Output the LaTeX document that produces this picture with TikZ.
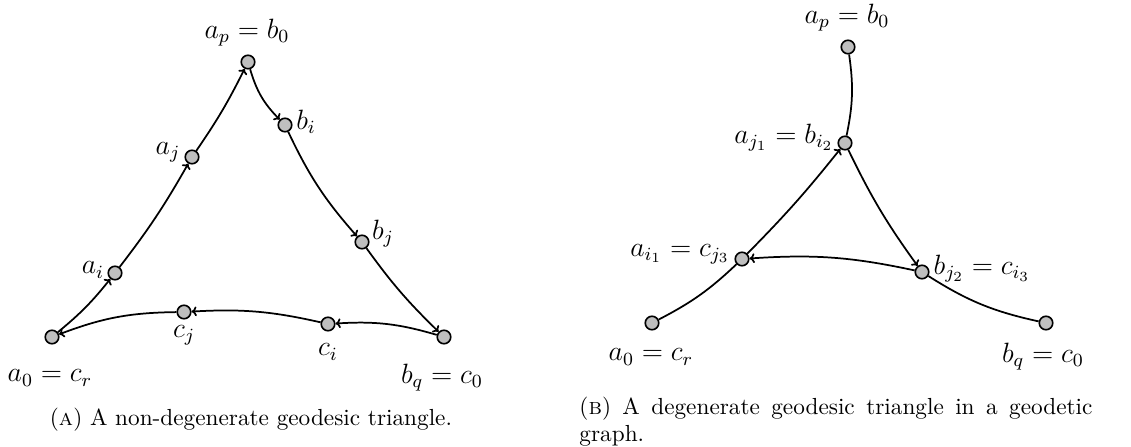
\documentclass[tikz,border=0pt]{standalone}
\usepackage{amsmath}
\usepackage{tikz}
\usetikzlibrary{arrows.meta}

\begin{document}
\begin{tikzpicture}[
   x=0.43pt,y=-0.43pt,
   vtx/.style={circle,draw,line width=0.7pt,fill=gray!50,minimum size=5.8pt,inner sep=0pt},
   lbl/.style={font=\fontsize{11.7}{14}\selectfont,inner sep=0pt},
   edge/.style={line width=0.75pt},
   captext/.style={font=\normalsize,inner sep=0pt},
   >={To[length=2.2pt,width=4.2pt]}]
  \useasboundingbox (0,0) rectangle (1131,446);
  % (a) non-degenerate triangle
  \node[vtx] (ap) at (248,62) {};
  \node[vtx] (bi) at (285,125) {};
  \node[vtx] (aj) at (192,157) {};
  \node[vtx] (bj) at (362,242) {};
  \node[vtx] (ai) at (115,273) {};
  \node[vtx] (a0) at (52,337) {};
  \node[vtx] (cj) at (184,312) {};
  \node[vtx] (ci) at (328,324) {};
  \node[vtx] (bq) at (444,337) {};
  \node[lbl] (Lap) at (247,33) {$a_p = b_0$};
  \node[lbl] (Lbi) at (306,122) {$b_i$};
  \node[lbl] (Laj) at (168,152) {$a_j$};
  \node[lbl] (Lbj) at (383,234) {$b_j$};
  \node[lbl] (Lai) at (93,270) {$a_i$};
  \node[lbl] (Lcj) at (184,335) {$c_j$};
  \node[lbl] (Lci) at (328,352) {$c_i$};
  \node[lbl] (La0) at (50,378) {$a_0 = c_r$};
  \node[lbl] (Lbq) at (442,378) {$b_q = c_0$};
  \draw[edge,->] (a0) to[bend right=6] (ai);
  \draw[edge,->] (ai) to[bend right=4] (aj);
  \draw[edge,->] (aj) to[bend right=4] (ap);
  \draw[edge,->] (ap) to[bend right=14] (bi);
  \draw[edge,->] (bi) to[bend right=8] (bj);
  \draw[edge,->] (bj) to[bend right=5] (bq);
  \draw[edge,->] (bq) to[bend right=10] (ci);
  \draw[edge,->] (ci) to[bend right=8] (cj);
  \draw[edge,->] (cj) to[bend right=10] (a0);
  % (b) degenerate triangle
  \node[vtx] (ap2) at (848,47) {};
  \node[vtx] (aj1) at (845,143) {};
  \node[vtx] (ai1) at (742,259) {};
  \node[vtx] (bj2) at (922,272) {};
  \node[vtx] (a02) at (652,323) {};
  \node[vtx] (bq2) at (1046,323) {};
  \node[lbl] (Lap2) at (847,18) {$a_p = b_0$};
  \node[lbl] (Laj1) at (784,138) {$a_{j_1} = b_{i_2}$};
  \node[lbl] (Lai1) at (680,254) {$a_{i_1} = c_{j_3}$};
  \node[lbl] (Lbj2) at (982,269) {$b_{j_2} = c_{i_3}$};
  \node[lbl] (La02) at (651,357) {$a_0 = c_r$};
  \node[lbl] (Lbq2) at (1043,357) {$b_q = c_0$};
  \draw[edge] (ap2) to[bend left=10] (aj1);
  \draw[edge,->] (aj1) to[bend right=5] (bj2);
  \draw[edge,->] (bj2) to[bend right=8] (ai1);
  \draw[edge,->] (ai1) to[bend right=3] (aj1);
  \draw[edge] (a02) to[bend right=8] (ai1);
  \draw[edge] (bj2) to[bend right=10] (bq2);
  % captions
  \node[captext,anchor=base] (capa) at (251,425) {(\textsc{a}) A non-degenerate geodesic triangle.};
  \node[captext,text width=220.6pt,align=justify,anchor=base west] (capb) at (579,414)
    {(\textsc{b}) A degenerate geodesic triangle in a geodetic graph.};
\end{tikzpicture}
\end{document}
